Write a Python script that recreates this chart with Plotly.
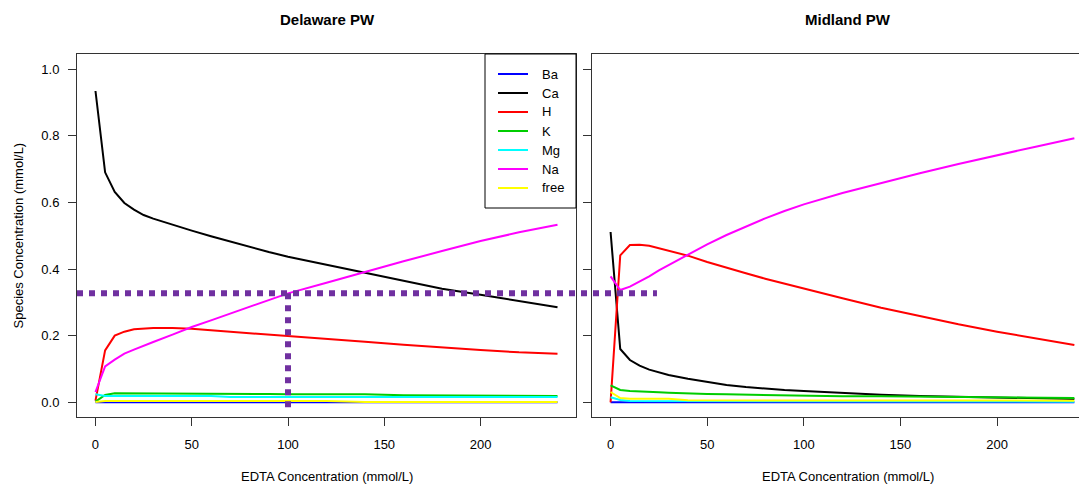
import plotly.graph_objects as go

# EDTA dose (mmol/L) at which species were computed
edta = [0, 5, 10, 15, 20, 25, 30, 40, 50, 60, 70, 80, 90, 100, 120, 140, 160, 180, 200, 220, 240]

species = ["Ba", "Ca", "H", "K", "Mg", "Na", "free"]
colors = ["#0000FF", "#000000", "#FF0000", "#00CD00", "#00FFFF", "#FF00FF", "#FFFF00"]

# Delaware produced water: species concentration (mmol/L)
del_ba = [0.000, 0.000, 0.000, 0.000, 0.000, 0.000, 0.000, 0.000, 0.000, 0.000, 0.000,
          0.000, 0.000, 0.000, 0.000, 0.000, 0.000, 0.000, 0.000, 0.000, 0.000]
del_ca = [0.934, 0.690, 0.631, 0.598, 0.578, 0.562, 0.551, 0.532, 0.515, 0.498, 0.482,
          0.467, 0.451, 0.437, 0.413, 0.389, 0.364, 0.341, 0.323, 0.303, 0.285]
del_h = [0.005, 0.156, 0.200, 0.212, 0.219, 0.222, 0.223, 0.223, 0.221, 0.216, 0.212,
         0.208, 0.204, 0.200, 0.192, 0.182, 0.173, 0.164, 0.157, 0.150, 0.146]
del_k = [0.002, 0.022, 0.027, 0.027, 0.027, 0.027, 0.027, 0.027, 0.027, 0.027, 0.027,
         0.027, 0.025, 0.024, 0.024, 0.024, 0.021, 0.021, 0.021, 0.021, 0.019]
del_mg = [0.024, 0.019, 0.019, 0.019, 0.019, 0.019, 0.019, 0.019, 0.019, 0.019, 0.016,
          0.016, 0.016, 0.016, 0.016, 0.016, 0.016, 0.016, 0.016, 0.016, 0.016]
del_na = [0.031, 0.108, 0.128, 0.146, 0.158, 0.170, 0.181, 0.203, 0.226, 0.246, 0.266,
          0.286, 0.306, 0.327, 0.359, 0.392, 0.423, 0.454, 0.484, 0.510, 0.533]
del_free = [0.001, 0.004, 0.004, 0.004, 0.004, 0.004, 0.004, 0.004, 0.004, 0.004, 0.004,
            0.004, 0.004, 0.004, 0.004, 0.001, 0.001, 0.001, 0.001, 0.001, 0.001]

# Midland produced water: species concentration (mmol/L)
mid_ba = [0.000, 0.000, 0.000, 0.000, 0.000, 0.000, 0.000, 0.000, 0.000, 0.000, 0.000,
          0.000, 0.000, 0.000, 0.000, 0.000, 0.000, 0.000, 0.000, 0.000, 0.000]
mid_ca = [0.511, 0.160, 0.127, 0.110, 0.098, 0.089, 0.082, 0.071, 0.061, 0.052, 0.046,
          0.041, 0.037, 0.034, 0.028, 0.023, 0.019, 0.017, 0.013, 0.011, 0.010]
mid_h = [0.000, 0.441, 0.472, 0.473, 0.470, 0.463, 0.456, 0.440, 0.421, 0.403, 0.387,
         0.371, 0.356, 0.341, 0.312, 0.284, 0.258, 0.234, 0.212, 0.191, 0.172]
mid_k = [0.051, 0.037, 0.034, 0.032, 0.031, 0.030, 0.029, 0.026, 0.025, 0.024, 0.023,
         0.021, 0.020, 0.019, 0.018, 0.018, 0.017, 0.016, 0.014, 0.013, 0.013]
mid_mg = [0.015, 0.007, 0.004, 0.004, 0.004, 0.003, 0.003, 0.003, 0.003, 0.003, 0.003,
          0.003, 0.003, 0.002, 0.002, 0.002, 0.002, 0.002, 0.002, 0.002, 0.002]
mid_na = [0.378, 0.337, 0.347, 0.362, 0.378, 0.396, 0.412, 0.443, 0.474, 0.502, 0.528,
          0.552, 0.574, 0.594, 0.628, 0.658, 0.687, 0.715, 0.742, 0.767, 0.792]
mid_free = [0.031, 0.013, 0.011, 0.011, 0.011, 0.011, 0.011, 0.006, 0.006, 0.006, 0.006,
            0.006, 0.006, 0.006, 0.006, 0.006, 0.005, 0.005, 0.005, 0.005, 0.005]

delaware = [del_ba, del_ca, del_h, del_k, del_mg, del_na, del_free]
midland = [mid_ba, mid_ca, mid_h, mid_k, mid_mg, mid_na, mid_free]

# reference guide: ~0.33 mmol/L level and 100 mmol/L EDTA dose
guide_level = 0.327
guide_dose = 100
guide_end_midland = 24

y_ticks = [0.0, 0.2, 0.4, 0.6, 0.8, 1.0]
x_ticks = [0, 50, 100, 150, 200]

FONT = "Liberation Sans, Arial, sans-serif"
W, H = 1079, 484
ML, MR, MT, MB = 77, 0, 54, 67
PW, PH = W - ML - MR, H - MT - MB

dom1 = [0.0, 0.498]
dom2 = [0.514, 1.0]
xr1 = [-9.6, 249.6]
xr2 = [-9.6, 242.4]
yr = [-0.044, 1.045]


def px_x(px):
    """page pixel column -> paper x"""
    return (px - ML) / PW


def px_y(py):
    """page pixel row -> paper y"""
    return (H - MB - py) / PH


fig = go.Figure()
for name, col, ys in zip(species, colors, delaware):
    fig.add_trace(go.Scatter(x=edta, y=ys, mode="lines", name=name,
                             line=dict(color=col, width=2),
                             xaxis="x", yaxis="y", showlegend=False))
for name, col, ys in zip(species, colors, midland):
    fig.add_trace(go.Scatter(x=edta, y=ys, mode="lines", name=name,
                             line=dict(color=col, width=2),
                             xaxis="x2", yaxis="y2", showlegend=False))

axis_common = dict(showgrid=False, zeroline=False, showline=True, linecolor="#333333",
                   linewidth=1, ticks="outside", ticklen=8, tickcolor="#333333",
                   tickfont=dict(family=FONT, size=13, color="#000000"))

fig.update_layout(
    width=W, height=H,
    margin=dict(l=ML, r=MR, t=MT, b=MB),
    paper_bgcolor="white", plot_bgcolor="white",
    font=dict(family=FONT, size=13, color="#000000"),
    xaxis=dict(domain=dom1, range=xr1, tickvals=x_ticks, mirror=True,
               ticklabelstandoff=7, anchor="y", **axis_common),
    yaxis=dict(domain=[0, 1], range=yr, tickvals=y_ticks, tickformat=".1f",
               mirror=True, ticklabelstandoff=6, anchor="x", **axis_common),
    xaxis2=dict(domain=dom2, range=xr2, tickvals=x_ticks, mirror=True,
                ticklabelstandoff=7, anchor="y2", **axis_common),
    yaxis2=dict(domain=[0, 1], range=yr, tickvals=y_ticks, showticklabels=False,
                mirror=False, anchor="x2", **axis_common),
    showlegend=False,
)

# panel titles and axis titles
fig.add_annotation(text="<b>Delaware PW</b>", xref="paper", yref="paper",
                   x=px_x(327), y=px_y(20), showarrow=False,
                   font=dict(family=FONT, size=15), xanchor="center", yanchor="middle")
fig.add_annotation(text="<b>Midland PW</b>", xref="paper", yref="paper",
                   x=px_x(848), y=px_y(20), showarrow=False,
                   font=dict(family=FONT, size=15), xanchor="center", yanchor="middle")
for cx in (327, 848):
    fig.add_annotation(text="EDTA Concentration (mmol/L)", xref="paper", yref="paper",
                       x=px_x(cx), y=px_y(476), showarrow=False,
                       font=dict(family=FONT, size=13), xanchor="center", yanchor="middle")
fig.add_annotation(text="Species Concentration (mmol/L)", xref="paper", yref="paper",
                   x=px_x(18), y=0.5, textangle=-90, showarrow=False,
                   font=dict(family=FONT, size=13), xanchor="center", yanchor="middle")

# legend box in the top-right corner of the Delaware panel
leg_left, leg_right, leg_top, leg_bottom = 485, 576, 54, 208
fig.add_shape(type="rect", xref="paper", yref="paper",
              x0=px_x(leg_left), x1=px_x(leg_right), y0=px_y(leg_bottom), y1=px_y(leg_top),
              line=dict(color="#000000", width=1), fillcolor="white", layer="above")
for i, (name, col) in enumerate(zip(species, colors)):
    row = 74 + 19 * i
    fig.add_shape(type="line", xref="paper", yref="paper",
                  x0=px_x(498), x1=px_x(528), y0=px_y(row), y1=px_y(row),
                  line=dict(color=col, width=2), layer="above")
    fig.add_annotation(text=name, xref="paper", yref="paper", x=px_x(540), y=px_y(row),
                       showarrow=False, xanchor="left", yanchor="middle",
                       font=dict(family=FONT, size=13, color="#000000"))

# dotted guide lines
guide = dict(color="#7030A0", width=6, dash="dot")
x_end = dom2[0] + (guide_end_midland - xr2[0]) / (xr2[1] - xr2[0]) * (dom2[1] - dom2[0])
fig.add_shape(type="line", xref="paper", yref="y", x0=dom1[0], x1=x_end,
              y0=guide_level, y1=guide_level, line=guide)
fig.add_shape(type="line", xref="x", yref="y", x0=guide_dose, x1=guide_dose,
              y0=guide_level, y1=-0.032, line=guide)

fig.write_html("out.html", config={"displayModeBar": False})
